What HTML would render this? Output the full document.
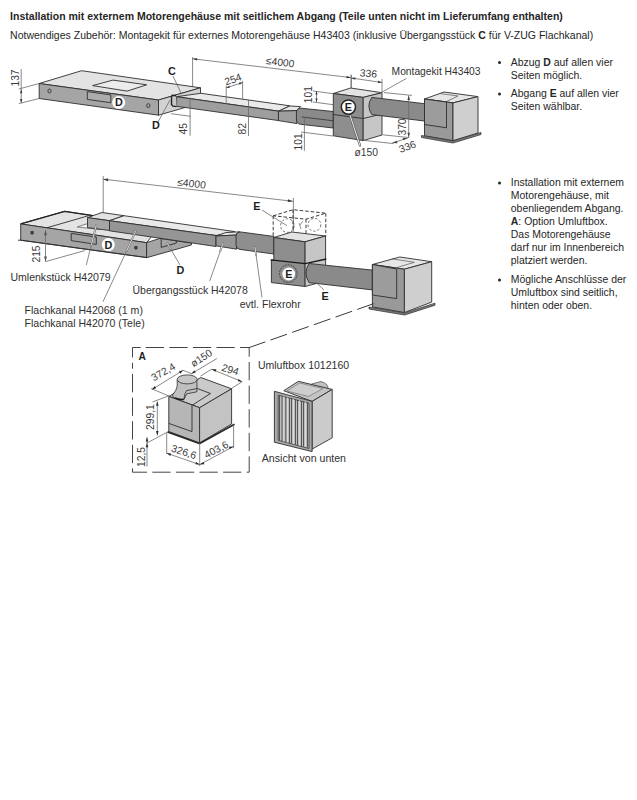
<!DOCTYPE html>
<html><head><meta charset="utf-8">
<style>
html,body{margin:0;padding:0;background:#fff;width:637px;height:800px;overflow:hidden}
svg{position:absolute;left:0;top:0}
text{font-family:"Liberation Sans",sans-serif}
.t{font-size:10.45px;fill:#262626}
.b{font-weight:bold}
.d{font-size:10.3px;fill:#3a3a3a}
.l{font-size:10.55px;fill:#303030}
.dl{stroke:#6a6a6a;stroke-width:0.8;fill:none}
.ol{stroke:#2e2e2e;stroke-width:0.9;stroke-linejoin:round}
.top{fill:#e3e3e3}
.fr{fill:#a5a5a5}
.dk{fill:#8a8a8a}
.sd{fill:#c6c6c6}
.lb{font-size:10.8px;font-weight:bold;fill:#1e1e1e}
</style></head><body>
<svg width="637" height="800" viewBox="0 0 637 800">
<!-- header text -->
<text class="t b" x="10.1" y="20.2" style="font-size:10.52px">Installation mit externem Motorengehäuse mit seitlichem Abgang (Teile unten nicht im Lieferumfang enthalten)</text>
<text class="t" x="10.1" y="38.6" style="font-size:10.51px">Notwendiges Zubehör: Montagekit für externes Motorengehäuse H43403 (inklusive Übergangsstück <tspan class="b">C</tspan> für V-ZUG Flachkanal)</text>

<!-- right bullets 1 -->
<g class="l">
<circle cx="499.5" cy="62.5" r="1.5" fill="#262626"/>
<text class="t" x="510.8" y="65.8">Abzug <tspan class="b">D</tspan> auf allen vier</text>
<text class="t" x="510.8" y="78.6">Seiten möglich.</text>
<circle cx="499.5" cy="94.1" r="1.5" fill="#262626"/>
<text class="t" x="510.8" y="97.4">Abgang <tspan class="b">E</tspan> auf allen vier</text>
<text class="t" x="510.8" y="110.4">Seiten wählbar.</text>
</g>
<!-- right bullets 2 -->
<circle cx="499.5" cy="183.1" r="1.5" fill="#262626"/>
<text class="t" x="510.8" y="186.4">Installation mit externem</text>
<text class="t" x="510.8" y="199.4">Motorengehäuse, mit</text>
<text class="t" x="510.8" y="212.4">obenliegendem Abgang.</text>
<text class="t" x="510.8" y="225.4"><tspan class="b">A</tspan>: Option Umluftbox.</text>
<text class="t" x="510.8" y="238.4">Das Motorengehäuse</text>
<text class="t" x="510.8" y="251.4">darf nur im Innenbereich</text>
<text class="t" x="510.8" y="264.4">platziert werden.</text>
<circle cx="499.5" cy="280.1" r="1.5" fill="#262626"/>
<text class="t" x="510.8" y="283.4">Mögliche Anschlüsse der</text>
<text class="t" x="510.8" y="296.4">Umluftbox sind seitlich,</text>
<text class="t" x="510.8" y="309.4">hinten oder oben.</text>

<!-- ============ TOP DRAWING ============ -->
<g id="top">
<!-- dimension 137 -->
<path class="dl" d="M21.2 69 V102.8 M18.8 89 L39.2 83.5 M18.8 103.6 L39.2 98.5"/>
<text class="d" transform="translate(18.9 86.6) rotate(-90)">137</text>
<path d="M21.20 89.20 L20.10 93.20 L22.30 93.20 Z M21.20 103.00 L22.30 99.00 L20.10 99.00 Z" fill="#333"/>
<!-- <=4000 -->
<path class="dl" d="M192.6 57 V92 M192.6 58.8 L351 77.6 M351 74.5 V89"/>
<path d="M192.60 58.80 L196.93 60.52 L197.21 58.14 Z M351.00 77.60 L346.67 75.88 L346.39 78.26 Z" fill="#333"/>
<text class="d" transform="translate(265.6 64.1) rotate(6.5)">≤4000</text>
<!-- hood -->
<polygon class="top ol" points="39.2,83.5 81.6,70.7 200.5,87.8 158.5,100"/>
<polygon class="fr ol" points="39.2,83.5 158.5,100 158.5,115.2 39.2,98.5"/>
<polygon fill="#d2d2d2" class="ol" points="158.5,100 200.5,87.8 200.5,103 158.5,115.2"/>
<polygon fill="#ececec" class="ol" points="92.6,85.6 113,80.1 146.7,84.8 127.1,91.1"/>
<polygon fill="#acacac" class="ol" points="87.3,91.6 110.8,94.9 110.8,102.7 87.3,99.4"/>
<ellipse cx="49.5" cy="91" rx="1.6" ry="2" fill="none" stroke="#333" stroke-width="0.9"/>
<ellipse cx="148.3" cy="105.6" rx="1.6" ry="2" fill="none" stroke="#333" stroke-width="0.9"/>
<!-- duct -->
<polygon fill="#eaeaea" class="ol" points="176.6,96.7 200.8,93.3 289.8,105.8 278.8,111.2"/>
<polygon fill="#9e9e9e" class="ol" points="176.6,96.7 278.8,111.2 278.8,120.6 176.6,106.3"/>
<path d="M176 95.8 L172.2 95.2 L171.5 97 L171.5 104.5 L173 106.2 L176.6 106.6" fill="#c8c8c8" stroke="#222" stroke-width="1.4"/>
<!-- transition -->
<polygon fill="#e8e8e8" class="ol" points="278.4,111.2 289.8,106 300.5,106.6 297,110.6"/>
<polygon fill="#9e9e9e" class="ol" points="278.4,111.2 297,110.6 297,123.6 278.4,120.6"/>
<!-- pipe -->
<path fill="#8a8a8a" class="ol" d="M300.8 108.2 L333.3 111.5 L333.3 128 L300.8 124.3 Q296.4 124 296.4 119 V113 Q296.4 108.3 300.8 108.2 Z"/>
<path d="M301.9 117 L333.3 120.8" stroke="#333" stroke-width="0.8"/>
<!-- dims 45 / 82 / 254 -->
<path class="dl" d="M190.1 97.4 V135.8 M248.5 100 V136 M226.2 85.6 V104.2 M242.6 80.9 V99 M226.2 87.8 L242.6 82.6 M171 113.7 L190.8 116.3"/>
<text class="d" transform="translate(187.1 134.4) rotate(-90)">45</text>
<text class="d" transform="translate(246.1 134.4) rotate(-90)">82</text>
<text class="d" transform="translate(226 85.6) rotate(-19)">254</text>
<path d="M226.20 87.80 L229.87 87.79 L229.20 85.69 Z M242.60 82.60 L238.93 82.61 L239.60 84.71 Z" fill="#333"/>
<!-- 101 dims -->
<path class="dl" d="M313 91 L333.3 93.7 M313 102 L333.3 104.7 M316.5 91 V102 M304.4 117 V150.8 M301 132 L333 136"/>
<text class="d" transform="translate(312.2 103.3) rotate(-90)">101</text>
<path d="M316.50 91.00 L315.40 94.50 L317.60 94.50 Z M316.50 102.00 L317.60 98.50 L315.40 98.50 Z" fill="#333"/>
<text class="d" transform="translate(302.3 150.5) rotate(-90)">101</text>
<!-- motor box -->
<polygon class="top ol" points="333.3,93.5 350.6,88 382,92.7 363.2,97.4"/>
<polygon fill="#8e8e8e" class="ol" points="333.3,93.5 363.2,97.4 363.2,140.6 333.3,135.8"/>
<polygon class="sd ol" points="363.2,97.4 382,92.7 382,135 363.2,140.6"/>
<path class="ol" d="M333.3 114.5 L363.2 118.5 L382 114" fill="none"/>
<!-- pipe 2 -->
<path class="dk ol" d="M371.8 97.4 L424.5 103.7 L424.5 121 L371.8 114.6 Q366 106 371.8 97.4 Z"/>
<!-- E circle -->
<path d="M350.1 115.5 L360 145.5" stroke="#555" stroke-width="2.3" stroke-linecap="round"/>
<path d="M350.1 115.5 L360 145.5" stroke="#f6f6f6" stroke-width="1" stroke-linecap="round"/>
<circle cx="348.4" cy="107.1" r="7.1" fill="#fff" stroke="#262626" stroke-width="1.5"/>
<text class="lb" x="348.4" y="111" text-anchor="middle">E</text>
<text class="d" x="354.5" y="156">ø150</text>
<!-- 336 top -->
<path class="dl" d="M351.4 75 V88 M382 79 V93 M351.4 78 L382 82.5"/>
<text class="d" transform="translate(359.6 76.3) rotate(5)">336</text>
<path d="M351.40 78.00 L355.18 79.77 L355.53 77.39 Z M382.00 82.50 L378.22 80.73 L377.87 83.11 Z" fill="#333"/>
<!-- 370 / 336 right -->
<path class="dl" d="M384 92.6 L412 95.4 M408.7 95.5 V137.2 M382.5 134.8 L409.4 137.6 M363.2 140.3 L393.5 143.6 M392.4 143 L407.7 138.1"/>
<path d="M408.7 95.5 l-1.3 4.5 h2.6 z M408.7 137.2 l-1.3 -4.5 h2.6 z M392.4 143 l4.3 -2.2 l0.8 2.4 z M407.7 138.1 l-4.3 2.2 l-0.8 -2.4 z" fill="#444"/>
<text class="d" transform="translate(406.3 135.6) rotate(-90)">370</text>
<text class="d" transform="translate(400.5 153) rotate(-20)">336</text>
<!-- montagekit leader -->
<path class="dl" d="M406.3 78.5 L379.6 93.5"/>
<text class="l" x="391.6" y="74.6" style="font-size:10.25px">Montagekit H43403</text>
<!-- external housing -->
<polygon fill="#e6e6e6" class="ol" points="424.5,99 444,92 478,96.6 453,102.9"/>
<path d="M440 93.5 L458 96 L446.5 101.5" stroke="#555" stroke-width="0.7" fill="none"/>
<polygon fill="#999999" class="ol" points="424.5,99 453,102.9 453,140.6 424.5,135.8"/>
<polygon fill="#9c9c9c" class="ol" points="424.5,99 446.5,102 446.5,127.8 424.5,124.5"/>
<polygon fill="#cfcfcf" class="ol" points="453,102.9 478,96.6 478,133 453,140.6"/>
<path d="M421.5 135.5 L453 141 L481 132.5 L481 134.5 L453 143 L421.5 137.5 Z" fill="#7c7c7c" stroke="#3a3a3a" stroke-width="0.8"/>
<!-- D circle hood -->
<circle cx="118.7" cy="102.5" r="6.5" fill="#fff"/>
<text class="lb" x="118.9" y="106.4" text-anchor="middle">D</text>
<!-- C and D labels -->
<text class="lb" x="168" y="74.5">C</text>
<path class="dl" d="M173 76 L181 93" stroke="#555"/>
<text class="lb" x="152" y="129.3">D</text>
<path class="dl" d="M158 122 L170 100" stroke="#555"/>
</g>


<!-- ============ SECOND DRAWING ============ -->
<g id="mid">
<!-- <=4000 -->
<path class="dl" d="M103.2 176 V212.5 M103.2 179.2 L292.8 201.3 M293.4 198 V231"/>
<path d="M103.20 179.20 L108.00 181.17 L108.33 178.39 Z M292.80 201.30 L288.00 199.33 L287.67 202.11 Z" fill="#333"/>
<text class="d" transform="translate(177 185.4) rotate(6.6)">≤4000</text>
<!-- hood 2 top -->
<polygon class="top ol" points="20.7,223.9 64.6,211.3 160,226 146.6,242.7"/>
<path d="M20.7 223.9 L64.6 211.3 L95 215.8" stroke="#222" stroke-width="1.3" fill="none"/>
<path class="ol" d="M45.1 228.3 L88.5 215.7" fill="none"/>
<polygon fill="#f2f2f2" stroke="#555" stroke-width="0.7" points="77.2,227 86,224 100,226 100,229.5"/>
<!-- hood 2 front -->
<polygon class="fr ol" points="20.7,223.9 146.6,242.7 146.6,257.5 20.7,240.2"/>
<polygon class="fr ol" points="146.6,242.7 159.8,238.4 191.4,243 191.4,245 146.6,257.7"/>
<polygon fill="#a2a2a2" class="ol" points="71.2,233.4 96.3,237.1 96.3,244.4 71.2,240.6"/>
<path class="ol" d="M161.2 238.9 V247.4 L176.3 243.1 V241" fill="none"/>
<path class="ol" d="M18 240.2 L20.7 240.2 L146.6 257.6" fill="none" stroke-width="1.3"/>
<rect x="30.5" y="231" width="3.2" height="3.4" rx="0.8" fill="#3a3a3a"/>
<rect x="134.3" y="246" width="3.2" height="3.4" rx="0.8" fill="#3a3a3a"/>
<!-- umlenkstueck -->
<polygon class="top ol" points="87.5,217.6 102,212.5 124,215.7 109.5,220.7"/>
<polygon class="fr ol" points="87.5,217.6 109.5,220.7 109.5,230.5 87.5,227.6"/>
<!-- flat duct 2 -->
<polygon fill="#eaeaea" class="ol" points="109.5,220.7 124,215.7 234.8,231.6 216,235.5"/>
<polygon fill="#959595" class="ol" points="109.5,220.7 216,235.5 216,246.5 109.5,230.8"/>
<!-- transition 2 -->
<polygon fill="#e8e8e8" class="ol" points="216,236 226,232.5 240,231.8 236.5,235"/>
<polygon fill="#979797" class="ol" points="216,236 236.5,235 236.5,249.2 216,245.8"/>
<!-- flex pipe -->
<path fill="#8e8e8e" class="ol" d="M240 231.9 L273.8 236.4 L273.8 254 L240 249.4 Q236 249 236 245 V236 Q236 232 240 231.9 Z"/>
<!-- dashed box -->
<path d="M273.2 215.8 L293 209.7 L325.8 213.2 L306 219.2 Z M273.2 215.8 V237.5 M325.8 213.2 V236 M306 219.2 V242 M293 209.7 V232" stroke="#3c3c3c" stroke-width="1" fill="none" stroke-dasharray="3.5 2"/>
<circle cx="287.4" cy="225.6" r="6.8" stroke="#555" stroke-width="0.8" fill="none" stroke-dasharray="2.5 1.8"/>
<circle cx="314.4" cy="224.8" r="6.4" stroke="#555" stroke-width="0.8" fill="none" stroke-dasharray="2.5 1.8"/>
<path d="M299 223 L301 229 M300 225 L303 221" stroke="#666" stroke-width="0.7" fill="none"/>
<!-- motor box 2 -->
<polygon class="top ol" points="273.8,237.5 291.8,232 325.6,236 305.1,241.8"/>
<polygon fill="#8e8e8e" class="ol" points="273.8,237.5 305.1,241.8 305.1,286.5 271.4,282.6 271.4,260 273.8,260"/>
<polygon class="sd ol" points="305.1,241.8 325.6,236 325.6,281 305.1,286.5"/>
<path d="M270.6 259.8 L305.1 263.7 L326.3 259" stroke="#1a1a1a" stroke-width="1.3" fill="none"/>
<!-- pipe to housing -->
<path class="dk ol" d="M309 263.5 L372.4 270.1 L372.4 289.9 L309 282.6 Q303 273 309 263.5 Z"/>
<!-- E circle dashed -->
<circle cx="288.3" cy="273.6" r="8.8" fill="none" stroke="#333" stroke-width="0.9" stroke-dasharray="1.8 1.1"/>
<circle cx="288.7" cy="274" r="6.4" fill="#fff"/>
<text class="lb" x="288.8" y="277.9" text-anchor="middle">E</text>
<!-- external housing 2 -->
<polygon fill="#e6e6e6" class="ol" points="372.4,264.5 399.7,257 431.7,261.7 404.4,269.2"/>
<path d="M391.8 258.8 L414.3 262.3 L397 267.5" stroke="#555" stroke-width="0.7" fill="none"/>
<polygon fill="#999999" class="ol" points="372.4,264.5 404.4,269.2 404.4,312.5 372.4,306.9"/>
<polygon fill="#9c9c9c" class="ol" points="372.4,264.5 396.7,269 396.7,298.6 372.4,295"/>
<polygon fill="#cfcfcf" class="ol" points="404.4,269.2 431.7,261.7 431.7,302.1 404.4,312.5"/>
<path d="M369 307 L404.6 313 L435 303.2 L435 305.2 L404.6 315 L369 309 Z" fill="#7c7c7c" stroke="#3a3a3a" stroke-width="0.8"/>
<!-- 215 dim -->
<path class="dl" d="M45.5 230.2 V261.6 M45.5 261.6 L84.8 250.6"/>
<path d="M45.5 230.2 l-1.5 5 h3 z M45.5 261.6 l-1.5 -5 h3 z" fill="#555"/>
<text class="d" transform="translate(40.4 262.6) rotate(-90)">215</text>
<!-- D circle -->
<circle cx="108.3" cy="244.6" r="6.5" fill="#fff"/>
<text class="lb" x="108.5" y="248.5" text-anchor="middle">D</text>
<!-- leaders -->
<path class="dl" d="M86.3 265 L96.3 225 M103 301.7 L135.9 230.8 M180 265 L167.3 243.4 M209.7 281 L223 243.4 M262 297.5 L255 247.3 M287 225.7 L262 210 M315.4 281.8 L324 290"/>
<path d="M91.3 245.0 L96.3 225.0 M126.7 250.7 L135.9 230.8 M170.5 248.8 L167.3 243.4 M220.3 250.9 L223.0 243.4 M256.1 254.8 L255.0 247.3" stroke="#6a6a6a" stroke-width="1.9" stroke-linecap="round" fill="none"/>
<path d="M91.3 245.0 L96.3 225.0 M126.7 250.7 L135.9 230.8 M170.5 248.8 L167.3 243.4 M220.3 250.9 L223.0 243.4 M256.1 254.8 L255.0 247.3" stroke="#f4f4f4" stroke-width="0.8" stroke-linecap="round" fill="none"/>
<text class="lb" x="176.5" y="274">D</text>
<text class="lb" x="253.3" y="210">E</text>
<text class="lb" x="321.6" y="300">E</text>
<text class="l" x="10.4" y="280.5">Umlenkstück H42079</text>
<text class="l" x="132.5" y="294.4" style="font-size:10.48px">Übergangsstück H42078</text>
<text class="l" x="239.7" y="307.8">evtl. Flexrohr</text>
<text class="l" x="24.5" y="314.3">Flachkanal H42068 (1 m)</text>
<text class="l" x="24.5" y="327.3">Flachkanal H42070 (Tele)</text>
<!-- dashed connector -->
<path d="M248.8 347.7 L376.3 302.7" stroke="#3a3a3a" stroke-width="1" stroke-dasharray="17.5 5.5" fill="none"/>
</g>

<!-- ============ A FRAME ============ -->
<g id="abox">
<path d="M132.5 357.5 V347.5 H140.7 M145.7 347.5 H249.2 V472.2 H132.5 V362.8" fill="none" stroke="#444" stroke-width="1" stroke-dasharray="18.3 5.3"/>
<text class="lb" x="138.4" y="360.2" style="font-size:10.2px">A</text>
<!-- box -->
<polygon fill="#cacaca" class="ol" points="168.8,396.4 200.8,377.5 231.6,388.8 199.6,407.7"/>
<path class="ol" d="M192.1 405.3 L210.5 393.5 L197 388.4" fill="none"/>
<polygon fill="#b6b6b6" class="ol" points="168.8,396.4 199.6,407.7 199.6,442.9 168.8,431.6"/>
<path class="ol" d="M192 405 V431.6 L168.8 423.4" fill="none"/>
<polygon fill="#c3c3c3" class="ol" points="199.6,407.7 231.6,388.8 231.6,424 199.6,442.9"/>
<path d="M167.5 431.8 L199.6 443.6 L234.5 424.2" stroke="#2a2a2a" stroke-width="1.8" fill="none"/>
<!-- pipe -->
<path d="M177.2 379.6 V386 Q176.8 390 172.5 395.1 Q172.5 397.5 175 398 Q179 399.8 183.8 399.6 L186.8 393.8 L196.9 391.8 V379.6 Z" fill="#c0c0c0" stroke="#2e2e2e" stroke-width="0.8"/>
<path d="M186.6 390.6 L196.9 388.6 M184 399.5 Q184.5 392 187.5 390" stroke="#2e2e2e" stroke-width="0.8" fill="none"/>
<path d="M175 397.8 Q179 399.8 183.8 399.6" stroke="#1e1e1e" stroke-width="1.5" fill="none"/>
<ellipse cx="187.2" cy="379.4" rx="10" ry="4.5" fill="#c6c6c6" stroke="#2e2e2e" stroke-width="0.8"/>
<!-- dims -->
<path class="dl" d="M166.7 432.4 V454.2 M199.7 442.7 V466 M233.6 424.9 V448.3 M166.7 453.2 L199.7 464.6 L233.6 446.4"/>
<path class="dl" d="M152 389.5 L183 370.3 M191.5 373.7 L216.9 358.5 M211.6 369.2 L242.1 381.7 M157.3 401.5 V435.4 M147 437.3 V466.5 M152.5 402 L168.6 395.9 M147 443 L166.7 432.4 M168.6 395.9 L151 388.5 M183 370.3 L192 373.8 M200.6 376 L211.6 369.2 M231.7 388.3 L242.1 381.7"/>
<g fill="#2a2a2a">
<path d="M152 389.5 l4.2 -1.2 l-1.5 -2.3 z M183 370.3 l-4.2 1.2 l1.5 2.3 z"/>
<path d="M191.5 373.7 l4.2 -1.2 l-1.4 -2.3 z"/>
<path d="M211.6 369.2 l3.9 2.5 l0.9 -2.4 z M242.1 381.7 l-4.4 -0.4 l1 -2.4 z"/>
<path d="M157.3 401.5 l-1.3 4.3 h2.6 z M157.3 435.4 l-1.3 -4.3 h2.6 z"/>
<path d="M147 437.3 l-1.3 4.3 h2.6 z M147 443 l-1.3 4.3 h2.6 z"/>
<path d="M166.7 453.2 l4.4 0.3 l-0.8 2.4 z M199.7 464.6 l-4.4 -0.3 l0.8 -2.4 z M199.7 464.6 l3.8 -2.6 l0.9 2.3 z M233.6 446.4 l-3.8 2.6 l-0.9 -2.3 z"/>
</g>
<text class="d" transform="translate(153.8 381.6) rotate(-30)">372,4</text>
<text class="d" transform="translate(193.4 367.5) rotate(-33)">ø150</text>
<text class="d" transform="translate(221 370.4) rotate(17.6)">294</text>
<text class="d" transform="translate(154.4 430) rotate(-90)">299,1</text>
<text class="d" transform="translate(145.4 467) rotate(-90)">12,5</text>
<text class="d" transform="translate(170.5 451.3) rotate(18)">326,6</text>
<text class="d" transform="translate(206.5 458.8) rotate(-28)">403,6</text>
</g>

<!-- ============ UMLUFTBOX ============ -->
<g id="umluft">
<text class="l" x="257.9" y="368.6" style="font-size:10.52px">Umluftbox 1012160</text>
<text class="l" x="261.8" y="462" style="font-size:10.6px">Ansicht von unten</text>
<path d="M311.5 384 L321 381.5 Q329 384 327.8 388.8 L313 391 Z" fill="#c2c2c2" stroke="#444" stroke-width="0.7"/>
<polygon fill="#c4c4c4" class="ol" points="283.8,390.7 298.3,381.3 332.2,389.4 312.1,401.4"/>
<polygon fill="#cdcdcd" stroke="#666" stroke-width="0.6" points="287,391 299.5,383 323,388.5 308.5,396.5"/>
<polygon fill="#cbcbcb" class="ol" points="312.1,401.4 332.2,389.4 332.2,437.8 312.1,449.1"/>
<polygon fill="#a9a9a9" class="ol" points="274.4,391.3 312.1,401.4 312.1,451.6 274.4,442.2"/>
<polygon fill="#bdbdbd" stroke="#3a3a3a" stroke-width="0.8" points="278.2,395.1 309,403.3 309,448.5 278.2,440.3"/>
<g stroke="#4a4a4a" stroke-width="0.9">
<path d="M279.5 395.5 V440.5 M282 396 V441 M285.8 397 V442 M289.5 398 V443 M291.5 398.5 V443.5 M295.5 399.5 V444.5 M297.5 400 V445 M301.5 401 V446 M303.5 401.5 V446.5 M307.5 402.5 V447.5"/>
</g>
<g stroke="#e0e0e0" stroke-width="0.8">
<path d="M283.8 396.5 V441.5 M287.5 397.5 V442.5 M293.5 399 V444 M299.5 400.5 V445.5 M305.5 402 V447"/>
</g>
</g>
</svg>
</body></html>
